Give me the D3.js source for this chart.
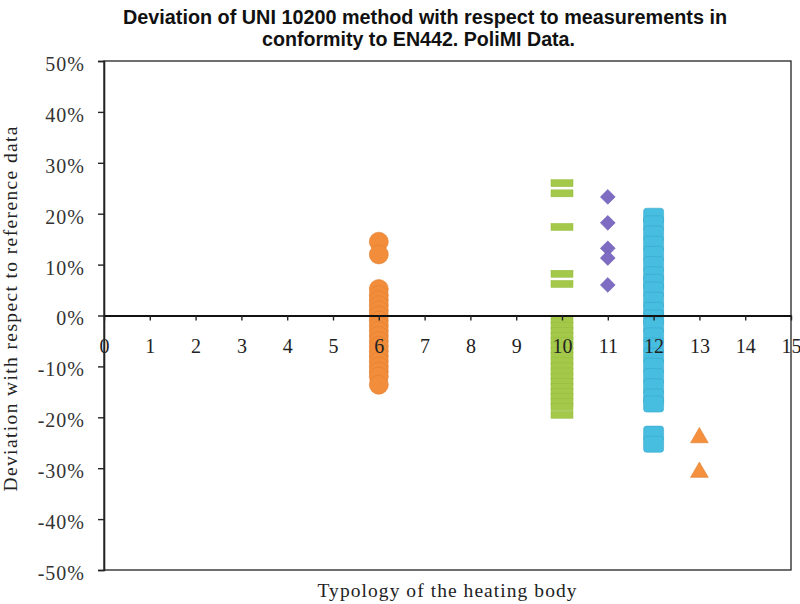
<!DOCTYPE html>
<html>
<head>
<meta charset="utf-8">
<script src="https://cdn.jsdelivr.net/npm/d3@7"></script>
<style>
  html, body { margin: 0; padding: 0; background: #fff; }
  svg { display: block; }
</style>
</head>
<body>
<svg id="chart" width="800" height="604"></svg>
<script>
// Deviations (%) per heating-body typology
const typ6Values  = [14.5, 12.0, 5.2, 4, 3, 2, 1, 0, -1, -2, -3, -4, -5, -6, -7, -8, -9, -10, -11, -12, -13.6];
const typ10Values = [26, 24, 17.4, 8.2, 6.2, -0.8, -2, -3, -4, -5, -6, -7, -8, -9, -10, -11, -12, -13, -14, -15, -16, -17, -18, -19.5];
const typ11Values = [23.3, 18.2, 13.2, 11.3, 6.0];
const typ12Values = [19.5, 18, 16, 14, 12, 10, 8, 6.5, 5, 3, 1, -0.5, -2, -4, -6, -8, -10, -12, -14, -16, -17.4, -23.3, -25.3];
const typ13Values = [-24, -30.8];

const xTicks = d3.range(0, 16);
const yTicks = [-50, -40, -30, -20, -10, 0, 10, 20, 30, 40, 50];

const titleLines = ["Deviation of UNI 10200 method with respect to measurements in",
                    "conformity to EN442. PoliMI Data."];
const xTitle = "Typology of the heating body";
const yTitle = "Deviation with respect to reference data";

const serif = "'Liberation Serif', 'Times New Roman', serif";
const svg = d3.select("#chart");
const plotL = 104, plotR = 791, plotT = 61, plotB = 570;

const x = d3.scaleLinear().domain([0, 15]).range([plotL, plotR]);
const y = d3.scaleLinear().domain([-50, 50]).range([plotB, plotT]);

// plot area frame
svg.append("rect")
  .attr("x", plotL).attr("y", plotT)
  .attr("width", plotR - plotL).attr("height", plotB - plotT)
  .attr("fill", "#fff").attr("stroke", "#222").attr("stroke-width", 1.3);

// title (two centred lines)
const titleLayout = [{cx: 425, y: 24, w: 604}, {cx: 418.5, y: 46, w: 313}];
svg.append("g").selectAll("text").data(titleLines).join("text")
  .attr("x", (d, i) => titleLayout[i].cx)
  .attr("y", (d, i) => titleLayout[i].y)
  .attr("text-anchor", "middle")
  .attr("textLength", (d, i) => titleLayout[i].w)
  .attr("lengthAdjust", "spacingAndGlyphs")
  .attr("font-family", "'Liberation Sans Narrow', 'Arial Narrow', 'Liberation Sans', sans-serif")
  .attr("font-weight", "bold")
  .attr("font-size", 19.5)
  .attr("fill", "#111")
  .text(d => d);

const marks = svg.append("g");

// typology 6: orange circles
marks.selectAll(".t6").data(typ6Values).join("circle")
  .attr("cx", x(6)).attr("cy", d => y(d)).attr("r", 9.5)
  .attr("fill", "#f28d3c").attr("stroke", "#e07d2e").attr("stroke-width", 0.6);

// typology 10: green dashes
marks.selectAll(".t10").data(typ10Values).join("rect")
  .attr("x", x(10) - 11).attr("y", d => y(d) - 3.5)
  .attr("width", 22).attr("height", 7)
  .attr("fill", "#a4c94a").attr("stroke", "#94bb3c").attr("stroke-width", 0.5);

// typology 11: purple diamonds
marks.selectAll(".t11").data(typ11Values).join("path")
  .attr("d", d3.symbol(d3.symbolDiamond2, 140)())
  .attr("transform", d => `translate(${x(11)},${y(d)})`)
  .attr("fill", "#7d6cc2").attr("stroke", "#6a5ab0").attr("stroke-width", 0.6);

// typology 12: cyan squares
marks.selectAll(".t12").data(typ12Values).join("rect")
  .attr("x", x(12) - 10).attr("y", d => y(d) - 8)
  .attr("width", 20).attr("height", 16).attr("rx", 3)
  .attr("fill", "#47bde0").attr("stroke", "#38a9cc").attr("stroke-width", 0.6);

// typology 13: orange triangles
marks.selectAll(".t13").data(typ13Values).join("path")
  .attr("d", d3.symbol(d3.symbolTriangle, 135)())
  .attr("transform", d => `translate(${x(13)},${y(d)})`)
  .attr("fill", "#f4903e").attr("stroke", "#e07d2e").attr("stroke-width", 0.6);

// y axis
const yAxis = svg.append("g")
  .attr("transform", `translate(${plotL},0)`)
  .call(d3.axisLeft(y).tickValues(yTicks).tickSize(6).tickPadding(13)
    .tickFormat(d => d + "%"));
yAxis.select(".domain").attr("stroke", "#222").attr("stroke-width", 1.6);
yAxis.selectAll(".tick line").attr("stroke", "#222").attr("stroke-width", 1.4);
yAxis.selectAll("text")
  .attr("dy", "0.47em")
  .attr("font-family", serif).attr("letter-spacing", 1)
  .attr("font-size", 20).attr("fill", "#333");

// x axis through zero
const xAxis = svg.append("g")
  .attr("transform", `translate(0,${y(0)})`)
  .call(d3.axisBottom(x).tickValues(xTicks).tickSize(5).tickPadding(18)
    .tickFormat(d3.format("d")).tickSizeOuter(0));
xAxis.select(".domain").attr("stroke", "#111").attr("stroke-width", 1.8);
xAxis.selectAll(".tick line").attr("stroke", "#222").attr("stroke-width", 1.4);
xAxis.selectAll("text")
  .attr("font-family", serif)
  .attr("font-size", 20).attr("fill", "#222");

// axis titles
svg.append("text")
  .attr("x", 447).attr("y", 597)
  .attr("text-anchor", "middle")
  .attr("textLength", 259).attr("lengthAdjust", "spacing")
  .attr("font-family", serif)
  .attr("font-size", 19.5).attr("fill", "#222")
  .text(xTitle);

svg.append("text")
  .attr("transform", "translate(17,309) rotate(-90)")
  .attr("text-anchor", "middle")
  .attr("textLength", 365).attr("lengthAdjust", "spacing")
  .attr("font-family", serif)
  .attr("font-size", 19.5).attr("fill", "#222")
  .text(yTitle);
</script>
</body>
</html>
